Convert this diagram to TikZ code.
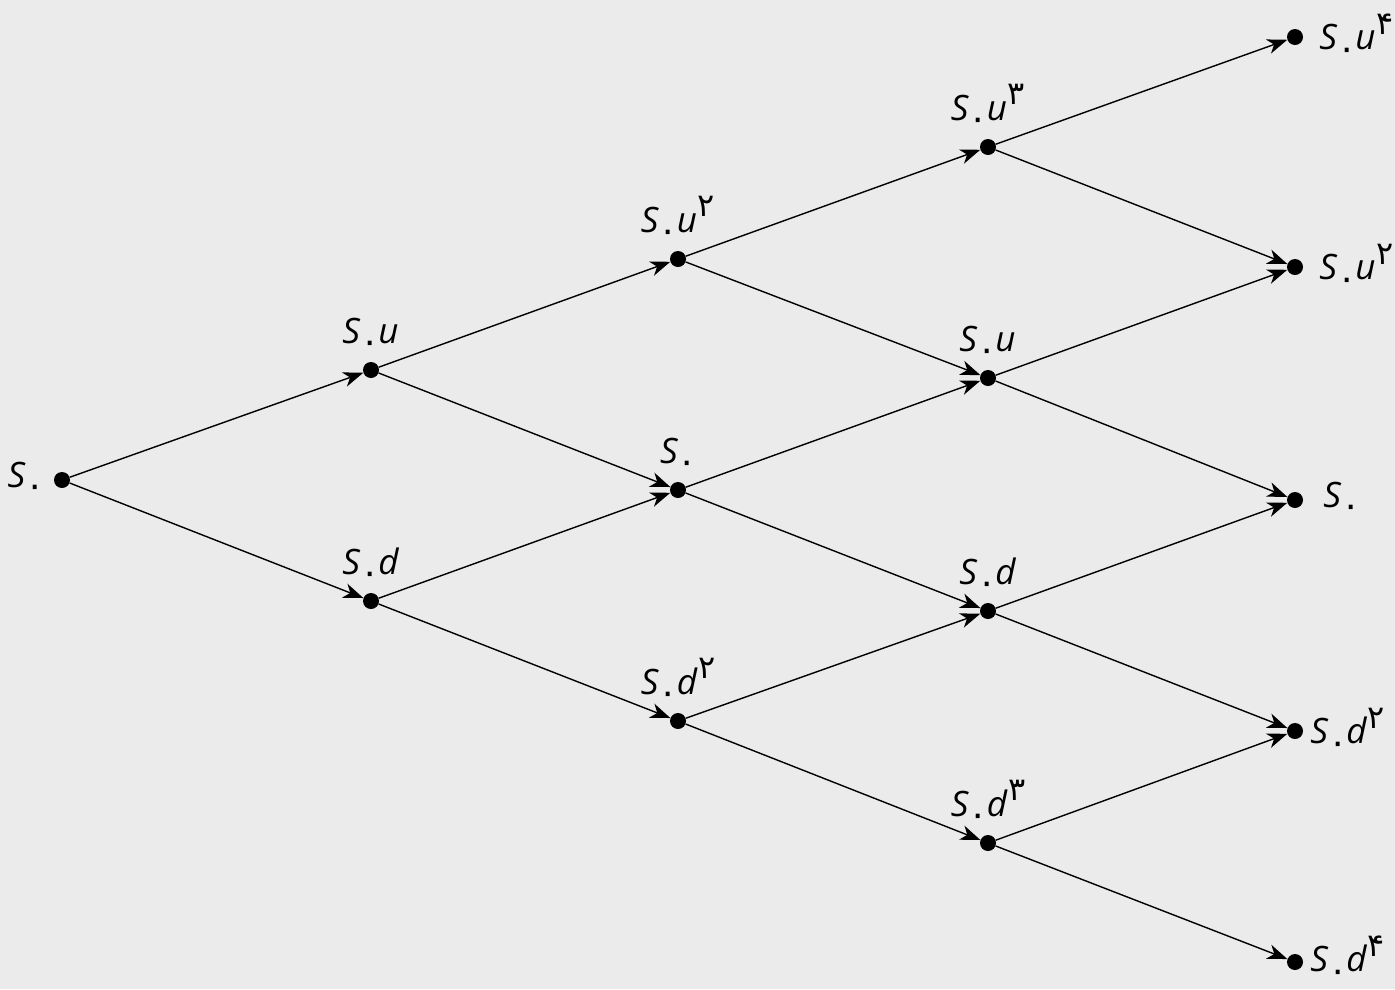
\documentclass[tikz,border=0pt]{standalone}
\usepackage{fontspec}
\usetikzlibrary{arrows.meta}
\newfontfamily\fa{DejaVu Sans}
\newfontfamily\lab{Open Sans}
\definecolor{bg}{HTML}{EBEBEB}
\newcommand{\Sz}{{\lab\itshape S}\kern0pt\raisebox{-0.3em}{\fa\fontsize{36}{36}\selectfont ۰}\kern-1pt}
\newcommand{\pw}[2]{{\lab\itshape #1}\kern1pt\raisebox{0.45em}{\fa\fontsize{32}{32}\selectfont #2}}
\tikzset{
  dot/.style={circle,fill=black,inner sep=0pt,minimum size=16pt},
  lbl/.style={font=\fontsize{35}{40}\selectfont,inner sep=2pt},
  edge/.style={line width=1.4pt,-{Stealth[length=20pt,width=15pt,inset=6pt]}},
}
\begin{document}
\begin{tikzpicture}[x=1pt,y=-1pt]
\fill[bg] (0,0) rectangle (1395,989);
\useasboundingbox (0,0) rectangle (1395,989);
\node[dot,label={[lbl,label distance=8pt]left:\Sz}] (a0) at (62,480) {};
\node[dot,label={[lbl,label distance=6pt]above:\Sz\pw{u}{}}] (b0) at (371,370) {};
\node[dot,label={[lbl,label distance=6pt]above:\Sz\pw{d}{}}] (b1) at (371,601) {};
\node[dot,label={[lbl,label distance=6pt]above:\Sz\pw{u}{۲}}] (c0) at (678,259) {};
\node[dot,label={[lbl,label distance=6pt]above:\Sz}] (c1) at (678,490) {};
\node[dot,label={[lbl,label distance=6pt]above:\Sz\pw{d}{۲}}] (c2) at (678,721) {};
\node[dot,label={[lbl,label distance=6pt]above:\Sz\pw{u}{۳}}] (d0) at (988,147) {};
\node[dot,label={[lbl,label distance=6pt]above:\Sz\pw{u}{}}] (d1) at (988,378) {};
\node[dot,label={[lbl,label distance=6pt]above:\Sz\pw{d}{}}] (d2) at (988,611) {};
\node[dot,label={[lbl,label distance=6pt]above:\Sz\pw{d}{۳}}] (d3) at (988,843) {};
\node[dot,label={[lbl,label distance=14pt]right:\Sz\pw{u}{۴}}] (e0) at (1295,37) {};
\node[dot,label={[lbl,label distance=14pt]right:\Sz\pw{u}{۲}}] (e1) at (1295,267) {};
\node[dot,label={[lbl,label distance=18pt]right:\Sz}] (e2) at (1295,500) {};
\node[dot,label={[lbl,label distance=5pt]right:\Sz\pw{d}{۲}}] (e3) at (1295,731) {};
\node[dot,label={[lbl,label distance=5pt,yshift=3pt]right:\Sz\pw{d}{۴}}] (e4) at (1295,962) {};
\draw[edge] (a0) -- (b0);
\draw[edge] (a0) -- (b1);
\draw[edge] (b0) -- (c0);
\draw[edge] (b0) -- (c1);
\draw[edge] (b1) -- (c1);
\draw[edge] (b1) -- (c2);
\draw[edge] (c0) -- (d0);
\draw[edge] (c0) -- (d1);
\draw[edge] (c1) -- (d1);
\draw[edge] (c1) -- (d2);
\draw[edge] (c2) -- (d2);
\draw[edge] (c2) -- (d3);
\draw[edge] (d0) -- (e0);
\draw[edge] (d0) -- (e1);
\draw[edge] (d1) -- (e1);
\draw[edge] (d1) -- (e2);
\draw[edge] (d2) -- (e2);
\draw[edge] (d2) -- (e3);
\draw[edge] (d3) -- (e3);
\draw[edge] (d3) -- (e4);
\end{tikzpicture}
\end{document}
